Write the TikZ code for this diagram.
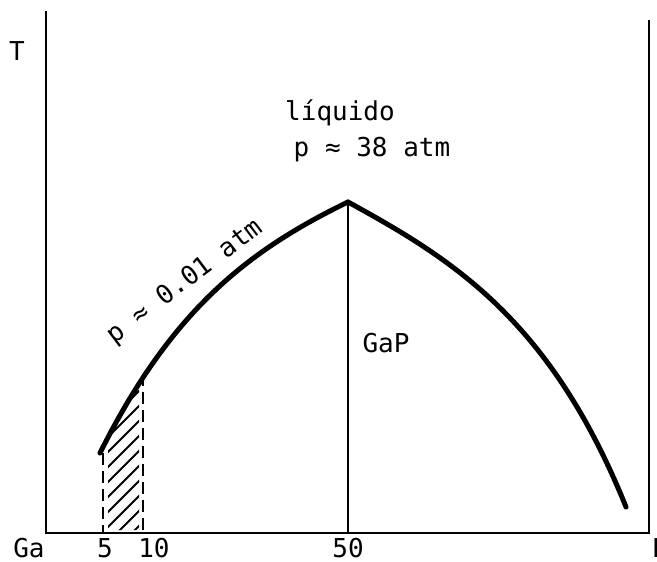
\documentclass[tikz,border=0pt]{standalone}
\usepackage{fontspec}
\newfontfamily\plotfont{DejaVu Sans Mono}
\begin{document}
\begin{tikzpicture}[x=1pt, y=-1pt,
  every node/.style={font=\plotfont\fontsize{26}{28}\selectfont, inner sep=0pt},
  curve/.style={line width=5pt, line cap=round, line join=round},
  axis/.style={line width=2.5pt},
  guide/.style={line width=2pt, dash pattern=on 12pt off 6pt},
  hatch/.style={line width=1.8pt}]
\useasboundingbox (0,0) rectangle (657,562);
% frame and axes
\coordinate (top) at (46,11);
\coordinate (o) at (46,533);
\coordinate (r) at (649,533);
\coordinate (rtop) at (649,20);
\draw[axis] (top) -- (o) -- (r) -- (rtop);
% congruent melting point
\coordinate (peak) at (348,202);
\coordinate (base) at (348,533);
\draw[line width=1.5pt] (peak) -- (base);
% liquidus, Ga side and P side
\coordinate (lo) at (100,453);
\coordinate (hi) at (626,507);
\draw[curve] (lo) .. controls (171,311) and (247,251) .. (peak);
\draw[curve] (peak) .. controls (450,258) and (550,318) .. (hi);
% hatched strip 5--10
\coordinate (d1) at (103,453);
\coordinate (d1b) at (103,533);
\coordinate (d2) at (143,374);
\coordinate (d2b) at (143,533);
\draw[guide] (d1) -- (d1b);
\draw[guide] (d2) -- (d2b);
\begin{scope}
\clip (108,530) -- (108,440) -- (124,408) -- (139,386) -- (139,530) -- cycle;
\foreach \k in {0,...,11}
  \draw[hatch] (100,565-\k*15) -- ++(50,-50);
\end{scope}
% labels
\node (T) at (17,51) {T};
\node (ga) at (29,548) {Ga};
\node (n5) at (105,548) {5};
\node (n10) at (154,548) {10};
\node (n50) at (348,548) {50};
\node (P) at (660,548) {P};
\node (liq) at (340,113) {líquido};
\node (p38) at (372,150) {p ≈ 38 atm};
\node (gap) at (386,343) {GaP};
\node[rotate=37] (p001) at (185,282) {p ≈ 0.01 atm};
\end{tikzpicture}
\end{document}
